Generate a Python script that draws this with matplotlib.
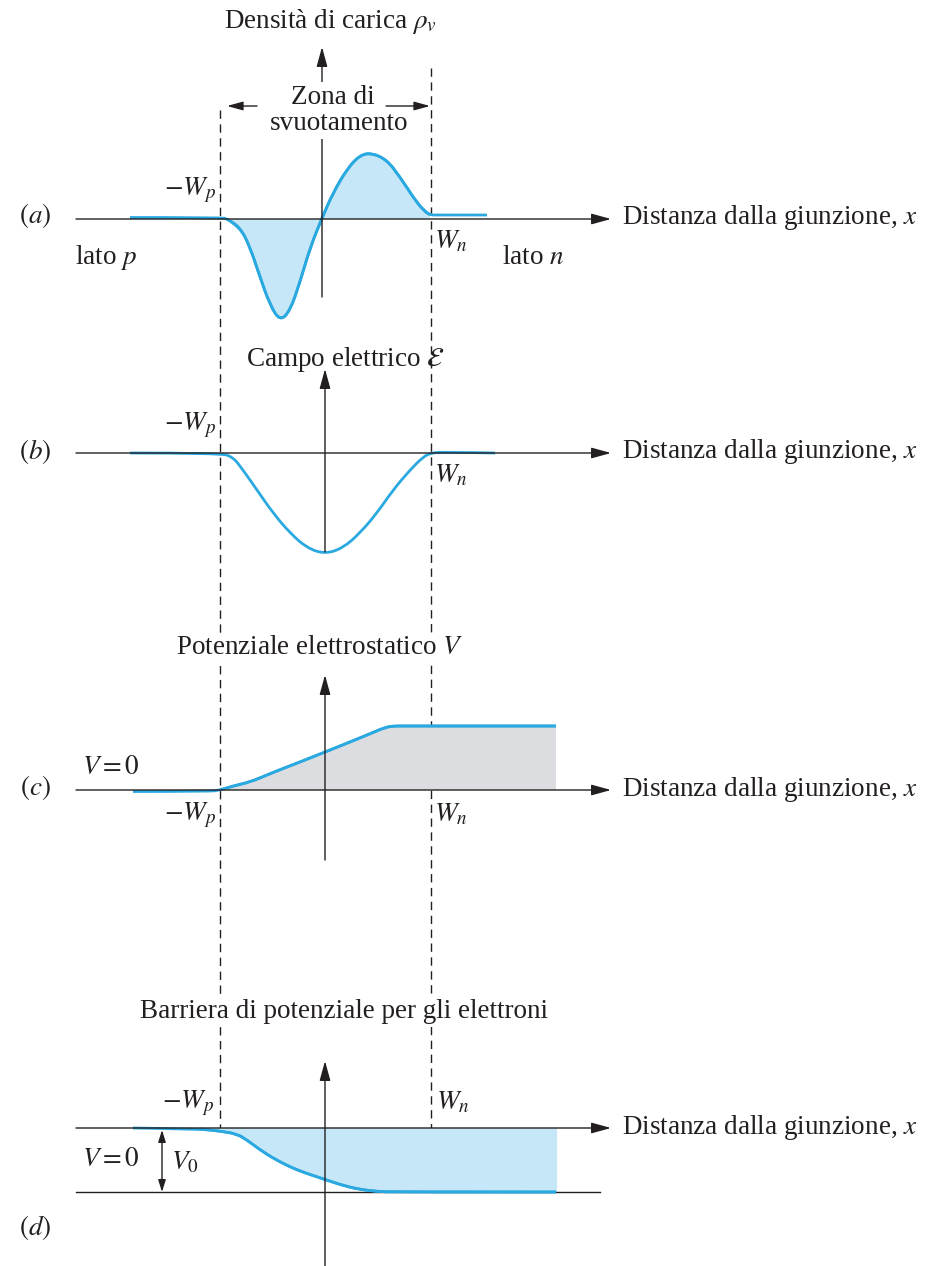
"""Giunzione p-n: densità di carica, campo, potenziale e barriera."""

import numpy as np
import matplotlib

matplotlib.use("Agg")
import matplotlib.pyplot as plt
from matplotlib.patches import PathPatch
from matplotlib.path import Path
from matplotlib.transforms import Affine2D

plt.rcParams["font.family"] = ["Liberation Serif", "DejaVu Serif"]
plt.rcParams["mathtext.fontset"] = "stix"

# curve values in diagram units (x from the junction, y from each axis)
rho_x = [-1.92, -1.00, -0.95, -0.82, -0.72, -0.62, -0.52, -0.42, -0.32, -0.22, -0.12,
         0.00, 0.11, 0.25, 0.38, 0.50, 0.65, 0.78, 0.91, 1.01, 1.08, 1.15, 1.65]
rho_y = [0.015, 0.015, 0.00, -0.08, -0.28, -0.58, -0.86, -1.02, -0.92, -0.63, -0.29,
         0.01, 0.26, 0.50, 0.64, 0.66, 0.59, 0.42, 0.22, 0.09, 0.04, 0.04, 0.04]

field_x = [-1.95, -1.05, -0.92, -0.82, -0.68, -0.52, -0.35, -0.18, 0.00, 0.18, 0.35,
           0.52, 0.68, 0.85, 0.98, 1.06, 1.18, 1.70]
field_y = [0.00, 0.00, -0.04, -0.17, -0.37, -0.60, -0.80, -0.95, -1.01, -0.95, -0.80,
           -0.60, -0.37, -0.17, -0.04, 0.00, 0.01, 0.00]

V0 = 0.64
pot_x = [-1.92, -1.15, -1.05, -0.92, -0.75, -0.58, -0.42, -0.25, 0.00, 0.25, 0.48,
         0.60, 0.68, 0.80, 2.31]
pot_y = [-0.015, -0.015, 0.00, 0.04, 0.08, 0.15, 0.215, 0.28, 0.38, 0.48, 0.575,
         0.625, V0, V0, V0]

barrier_x = [-1.92, -1.25, -1.05, -0.88, -0.78, -0.62, -0.45, -0.28, -0.12, 0.00,
             0.15, 0.32, 0.52, 0.70, 2.31]
barrier_y = [0.00, -0.01, -0.03, -0.06, -0.12, -0.24, -0.34, -0.42, -0.475, -0.515,
             -0.565, -0.61, -0.635, -V0, -V0]

BLUE = "#2aa9e0"
BLUE_FILL = "#c6e7f7"
GREY_FILL = "#dcdde0"
INK = "#231f20"
FS = 19.5

X0 = [322, 325, 325, 325]   # junction position per panel, px
UNIT = 100                  # px per diagram unit
AXIS_Y = [219, 453, 790, 1128]
XP, XN = 220, 431           # -Wp and Wn, px


def smooth(xs, ys):
    pts = np.column_stack([xs, ys])
    verts = [pts[0]]
    codes = [Path.MOVETO]
    n = len(pts)
    for i in range(1, n - 1):
        end = (pts[i] + pts[i + 1]) / 2 if i < n - 2 else pts[i + 1]
        verts += [pts[i], end]
        codes += [Path.CURVE3, Path.CURVE3]
    return verts, codes


def panel(ax, k):
    return Affine2D().scale(UNIT, -UNIT).translate(X0[k], AXIS_Y[k]) + ax.transData


def curve(ax, tf, xs, ys, fill=None, z=3):
    verts, codes = smooth(xs, ys)
    ax.add_patch(PathPatch(Path(verts, codes), fc="none", ec=BLUE, lw=2.0,
                           transform=tf, zorder=z, capstyle="butt"))
    if fill is not None:
        fv = verts + [(xs[-1], 0), (xs[0], 0), (xs[0], 0)]
        fc = codes + [Path.LINETO, Path.LINETO, Path.CLOSEPOLY]
        ax.add_patch(PathPatch(Path(fv, fc), fc=fill, ec="none", transform=tf, zorder=1))


def arrow(ax, x1, y1, x2, y2, ms=15, style="-|>,head_length=0.8,head_width=0.22"):
    ax.annotate("", xy=(x2, y2), xytext=(x1, y1),
                arrowprops=dict(arrowstyle=style, color=INK, lw=1.0,
                                shrinkA=0, shrinkB=0, mutation_scale=ms),
                zorder=4)


def label(ax, x, y, s, ha="left", box=False, size=FS):
    kw = {}
    if box:
        kw["bbox"] = dict(fc="white", ec="none", pad=1.5)
    ax.text(x, y, s, ha=ha, va="center", fontsize=size, color=INK, zorder=5, **kw)


def main():
    fig = plt.figure(figsize=(9.26, 12.66), dpi=100)
    ax = fig.add_axes([0, 0, 1, 1])
    ax.set_xlim(0, 926)
    ax.set_ylim(1266, 0)
    ax.axis("off")

    # depletion-region boundaries
    dash = dict(color=INK, lw=1.0, ls=(0, (6, 4)), zorder=0.5)
    ax.plot([XP, XP], [110, AXIS_Y[3]], **dash)
    ax.plot([XN, XN], [68, AXIS_Y[3] + V0 * UNIT], **dash)

    # horizontal axes
    for y0 in AXIS_Y:
        arrow(ax, 76, y0, 611, y0)
        label(ax, 622, y0 - 1, r"Distanza dalla giunzione, $x$")
    ax.plot([76, 600], [AXIS_Y[3] + V0 * UNIT] * 2, color=INK, lw=1.0, zorder=2)

    # (a) charge density
    tf = panel(ax, 0)
    curve(ax, tf, rho_x[2:-2], rho_y[2:-2], fill=BLUE_FILL)
    curve(ax, tf, rho_x, rho_y)
    arrow(ax, X0[0], 297, X0[0], 47)
    label(ax, 330, 22, r"Densità di carica $\rho_v$", ha="center")
    label(ax, 333, 97, "Zona di", ha="center", box=True)
    label(ax, 339, 124, "svuotamento", ha="center", box=True)
    arrow(ax, 257, 106, 227, 106, ms=12)
    arrow(ax, 386, 106, 430, 106, ms=12)
    label(ax, 35, 215, r"$(a)$", ha="center")
    label(ax, 216, 190, r"$-W_p$", ha="right")
    label(ax, 434, 242, r"$W_n$")
    label(ax, 75, 257, r"lato $p$")
    label(ax, 502, 257, r"lato $n$")

    # (b) electric field
    tf = panel(ax, 1)
    curve(ax, tf, field_x, field_y)
    arrow(ax, X0[1], 552, X0[1], 369)
    label(ax, 346, 360, r"Campo elettrico $\mathcal{E}$", ha="center")
    label(ax, 35, 452, r"$(b)$", ha="center")
    label(ax, 216, 425, r"$-W_p$", ha="right")
    label(ax, 434, 476, r"$W_n$")

    # (c) electrostatic potential
    tf = panel(ax, 2)
    curve(ax, tf, pot_x[2:], pot_y[2:], fill=GREY_FILL)
    curve(ax, tf, pot_x, pot_y)
    arrow(ax, X0[2], 860, X0[2], 675)
    label(ax, 320, 648, r"Potenziale elettrostatico $V$", ha="center", box=True)
    label(ax, 82, 768, r"$V = 0$")
    label(ax, 35, 788, r"$(c)$", ha="center")
    label(ax, 216, 815, r"$-W_p$", ha="right")
    label(ax, 434, 815, r"$W_n$")

    # (d) potential barrier for electrons
    tf = panel(ax, 3)
    curve(ax, tf, barrier_x[1:], barrier_y[1:], fill=BLUE_FILL)
    ax.plot([barrier_x[-1], barrier_x[-1]], [0, -V0], color=BLUE_FILL, lw=0.8,
            transform=tf, zorder=1)
    curve(ax, tf, barrier_x, barrier_y)
    arrow(ax, X0[3], 1266, X0[3], 1061)
    label(ax, 344, 1012, "Barriera di potenziale per gli elettroni", ha="center", box=True)
    label(ax, 214, 1103, r"$-W_p$", ha="right")
    label(ax, 436, 1103, r"$W_n$")
    label(ax, 82, 1160, r"$V = 0$")
    label(ax, 171, 1163, r"$V_0$")
    arrow(ax, 162, AXIS_Y[3] + 2, 162, AXIS_Y[3] + V0 * UNIT,
          ms=9, style="<|-|>,head_length=0.8,head_width=0.25")
    label(ax, 35, 1228, r"$(d)$", ha="center")

    fig.savefig("out.png", dpi=100)
    plt.close(fig)


if __name__ == "__main__":
    main()
